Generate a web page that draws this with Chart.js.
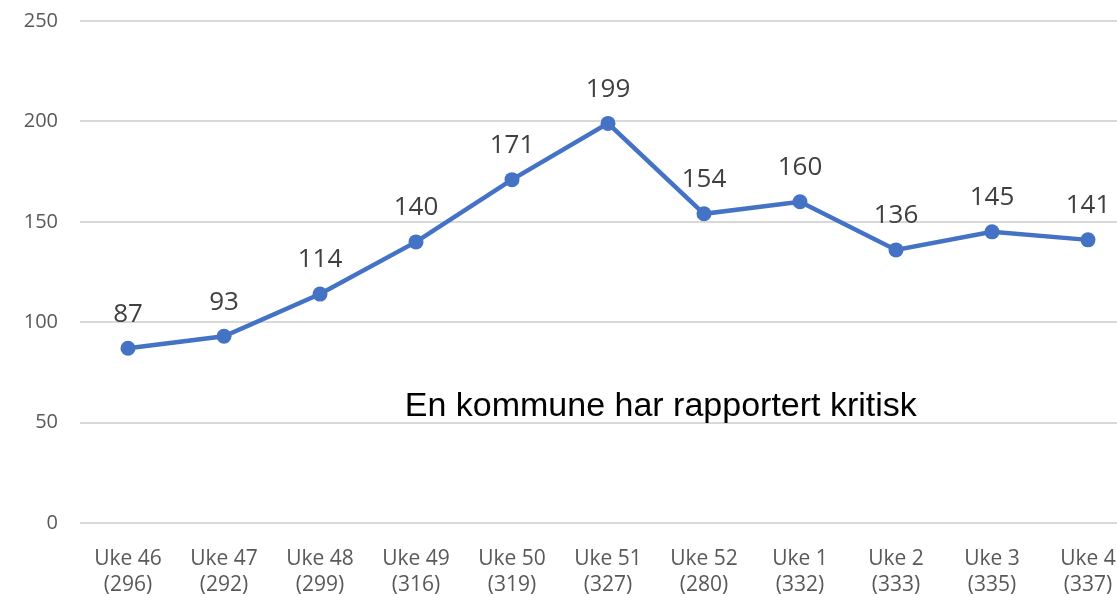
<!DOCTYPE html>
<html>
<head>
<meta charset="utf-8">
<script src="https://cdn.jsdelivr.net/npm/chart.js@4/dist/chart.umd.min.js"></script>
<style>
  html, body { margin: 0; padding: 0; background: #fff; overflow: hidden; }
  #wrap { width: 1160px; height: 608px; margin-top: -13px; position: relative; }
</style>
</head>
<body>
<div id="wrap"><canvas id="chart"></canvas></div>
<script>
const weekLabels = ['Uke 46', 'Uke 47', 'Uke 48', 'Uke 49', 'Uke 50', 'Uke 51', 'Uke 52', 'Uke 1', 'Uke 2', 'Uke 3', 'Uke 4'];
const totals = ['(296)', '(292)', '(299)', '(316)', '(319)', '(327)', '(280)', '(332)', '(333)', '(335)', '(337)'];
const values = [87, 93, 114, 140, 171, 199, 154, 160, 136, 145, 141];
const yTicks = [0, 50, 100, 150, 200, 250];
const noteText = 'En kommune har rapportert kritisk';

const labelFont = '"Open Sans", "DejaVu Sans", sans-serif';

// values drawn above each point
const pointLabels = {
    id: 'pointLabels',
    afterDatasetsDraw(chart) {
        const ctx = chart.ctx;
        const meta = chart.getDatasetMeta(0);
        ctx.save();
        ctx.font = '26px ' + labelFont;
        ctx.fillStyle = '#404040';
        ctx.textAlign = 'center';
        ctx.textBaseline = 'middle';
        meta.data.forEach((pt, i) => {
            ctx.fillText(values[i], pt.x, pt.y - 34);
        });
        ctx.restore();
    }
};

// free text note inside the plot
const note = {
    id: 'note',
    afterDraw(chart) {
        const ctx = chart.ctx;
        const x = chart.scales.x.getPixelForValue(5.55);
        const y = chart.scales.y.getPixelForValue(58);
        ctx.save();
        ctx.font = '34px "Liberation Sans", Arial, sans-serif';
        ctx.fillStyle = '#000';
        ctx.textAlign = 'center';
        ctx.textBaseline = 'middle';
        ctx.fillText(noteText, x, y);
        ctx.restore();
    }
};

const ctx = document.getElementById('chart').getContext('2d');
new Chart(ctx, {
    type: 'line',
    data: {
        labels: weekLabels.map((w, i) => [w, totals[i]]),
        datasets: [{
            data: values,
            borderColor: '#4472C4',
            backgroundColor: '#4472C4',
            borderWidth: 4.5,
            pointRadius: 7.5,
            pointHoverRadius: 7.5,
            pointBorderWidth: 0,
            tension: 0
        }]
    },
    options: {
        responsive: true,
        maintainAspectRatio: false,
        animation: false,
        layout: { padding: { top: 8, right: 24, left: 0, bottom: 0 } },
        plugins: {
            legend: { display: false },
            tooltip: { enabled: false }
        },
        scales: {
            x: {
                offset: true,
                grid: { display: false, drawTicks: false },
                border: { display: false },
                ticks: {
                    color: '#595959',
                    font: { family: labelFont, size: 21, lineHeight: 1.25 },
                    padding: 23,
                    maxRotation: 0,
                    autoSkip: false
                },
                afterFit(scale) { scale.height = 72; }
            },
            y: {
                min: 0,
                max: 250,
                afterBuildTicks(scale) { scale.ticks = yTicks.map(v => ({ value: v })); },
                grid: { color: '#d9d9d9', lineWidth: 2, drawTicks: false },
                border: { display: false },
                ticks: {
                    color: '#595959',
                    font: { family: labelFont, size: 20 },
                    padding: 22
                },
                afterFit(scale) { scale.width = 80; }
            }
        }
    },
    plugins: [pointLabels, note]
});
</script>
</body>
</html>
